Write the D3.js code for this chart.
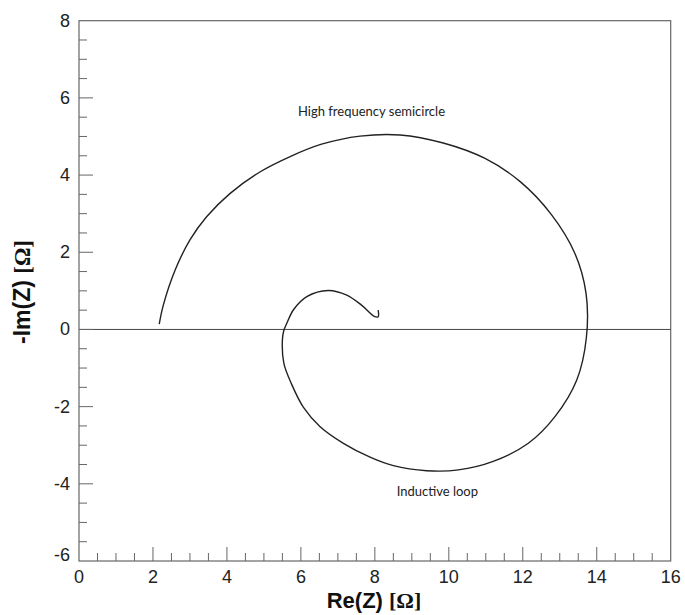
<!DOCTYPE html>
<html>
<head>
<meta charset="utf-8">
<script src="https://cdn.jsdelivr.net/npm/d3@7"></script>
<style>
  body { margin: 0; background: #fff; }
  svg { display: block; }
</style>
</head>
<body>
<svg id="chart" width="685" height="615"></svg>
<script>
// Nyquist curve: Re(Z) and -Im(Z) values (ohm)
const reZ = [2.17, 2.28, 2.60, 3.00, 3.45, 4.08, 4.89, 5.71, 6.56, 7.60, 8.68, 9.85, 10.98, 11.93, 12.78, 13.41, 13.71, 13.72, 13.46, 12.87, 12.15, 11.20, 10.26, 9.40, 8.50, 7.87, 7.15, 6.52, 6.07, 5.75, 5.54, 5.50, 5.54, 5.62, 5.80, 6.16, 6.74, 7.24, 7.64, 8.00, 8.09, 8.09];
const negImZ = [0.14, 0.63, 1.54, 2.32, 2.92, 3.52, 4.08, 4.48, 4.80, 5.01, 5.04, 4.83, 4.43, 3.83, 2.97, 1.97, 0.94, -0.21, -1.31, -2.26, -2.95, -3.42, -3.64, -3.66, -3.53, -3.31, -2.95, -2.52, -2.02, -1.42, -0.88, -0.27, -0.02, 0.16, 0.51, 0.85, 1.01, 0.89, 0.63, 0.33, 0.33, 0.50];

const xTicks = [0, 2, 4, 6, 8, 10, 12, 14, 16];
const yTicks = [-6, -4, -2, 0, 2, 4, 6, 8];
const xMinorTicks = d3.range(0, 16.01, 0.5);
const yMinorTicks = d3.range(-6, 8.01, 0.5);

const annotationTexts = ["High frequency semicircle", "Inductive loop"];
const annotationX = [7.91, 9.69];
const annotationY = [5.66, -4.21];

const svg = d3.select("#chart");
const margin = { left: 79, right: 14.3, top: 20.7, bottom: 54 };
const W = 685, H = 615;

const x = d3.scaleLinear().domain([0, 16]).range([margin.left, W - margin.right]);
const y = d3.scaleLinear().domain([-6, 8]).range([H - margin.bottom, margin.top]);

const axisColor = "#666";

// Frame
svg.append("rect")
  .attr("x", x(0)).attr("y", y(8))
  .attr("width", x(16) - x(0)).attr("height", y(-6) - y(8))
  .attr("fill", "none").attr("stroke", axisColor).attr("stroke-width", 1.2);

// Zero line
svg.append("line")
  .attr("x1", x(0)).attr("x2", x(16))
  .attr("y1", y(0)).attr("y2", y(0))
  .attr("stroke", "#444").attr("stroke-width", 1);

// Minor/major ticks (inward)
const gx = svg.append("g");
gx.selectAll("line.minor").data(xMinorTicks.filter(v => v % 2 !== 0 && v > 0 && v < 16)).join("line")
  .attr("x1", d => x(d)).attr("x2", d => x(d))
  .attr("y1", y(-6)).attr("y2", y(-6) - 8)
  .attr("stroke", axisColor).attr("stroke-width", 1);
gx.selectAll("line.major").data(xTicks.filter(v => v > 0 && v < 16)).join("line")
  .attr("x1", d => x(d)).attr("x2", d => x(d))
  .attr("y1", y(-6)).attr("y2", y(-6) - 14)
  .attr("stroke", axisColor).attr("stroke-width", 1);

const gy = svg.append("g");
gy.selectAll("line.minor").data(yMinorTicks.filter(v => v % 2 !== 0 && v > -6 && v < 8)).join("line")
  .attr("x1", x(0)).attr("x2", x(0) + 8)
  .attr("y1", d => y(d)).attr("y2", d => y(d))
  .attr("stroke", axisColor).attr("stroke-width", 1);
gy.selectAll("line.major").data(yTicks.filter(v => v > -6 && v < 8)).join("line")
  .attr("x1", x(0)).attr("x2", x(0) + 14)
  .attr("y1", d => y(d)).attr("y2", d => y(d))
  .attr("stroke", axisColor).attr("stroke-width", 1);

// Tick labels
svg.append("g").selectAll("text").data(xTicks).join("text")
  .attr("x", d => x(d)).attr("y", y(-6) + 21.5)
  .attr("text-anchor", "middle")
  .attr("font-family", "Liberation Sans, Arial, sans-serif")
  .attr("font-size", 18).attr("fill", "#222")
  .text(d => d);

svg.append("g").selectAll("text").data(yTicks).join("text")
  .attr("x", x(0) - 9).attr("y", d => y(d) + 6 - (d === -6 ? 6 : 0))
  .attr("text-anchor", "end")
  .attr("font-family", "Liberation Sans, Arial, sans-serif")
  .attr("font-size", 18).attr("fill", "#222")
  .text(d => d);

// Axis titles
const xt = svg.append("text")
  .attr("x", 374).attr("y", 607.5)
  .attr("text-anchor", "middle")
  .attr("font-family", "Liberation Sans, Arial, sans-serif")
  .attr("font-size", 22).attr("font-weight", "bold").attr("fill", "#111");
xt.append("tspan").text("Re(Z) ");
xt.append("tspan").attr("font-family", "Liberation Serif, Times New Roman, serif").text("[Ω]");

const yt = svg.append("text")
  .attr("transform", "translate(30,292) rotate(-90)")
  .attr("text-anchor", "middle")
  .attr("font-family", "Liberation Sans, Arial, sans-serif")
  .attr("font-size", 23).attr("font-weight", "bold").attr("fill", "#111");
yt.append("tspan").text("-Im(Z) ");
yt.append("tspan").attr("font-family", "Liberation Serif, Times New Roman, serif").text("[Ω]");

// Curve
const pts = reZ.map((r, i) => [r, negImZ[i]]);
const line = d3.line().x(d => x(d[0])).y(d => y(d[1])).curve(d3.curveCatmullRom.alpha(0.5));
svg.append("path")
  .attr("d", line(pts))
  .attr("fill", "none").attr("stroke", "#222").attr("stroke-width", 1.4)
  .attr("stroke-linejoin", "round");

// Annotations
svg.append("g").selectAll("text").data(annotationTexts).join("text")
  .attr("x", (d, i) => x(annotationX[i]))
  .attr("y", (d, i) => y(annotationY[i]) + 4.5)
  .attr("text-anchor", "middle")
  .attr("font-family", "Lato, Open Sans, sans-serif")
  .attr("font-size", 13).attr("fill", "#222")
  .text(d => d);
</script>
</body>
</html>
